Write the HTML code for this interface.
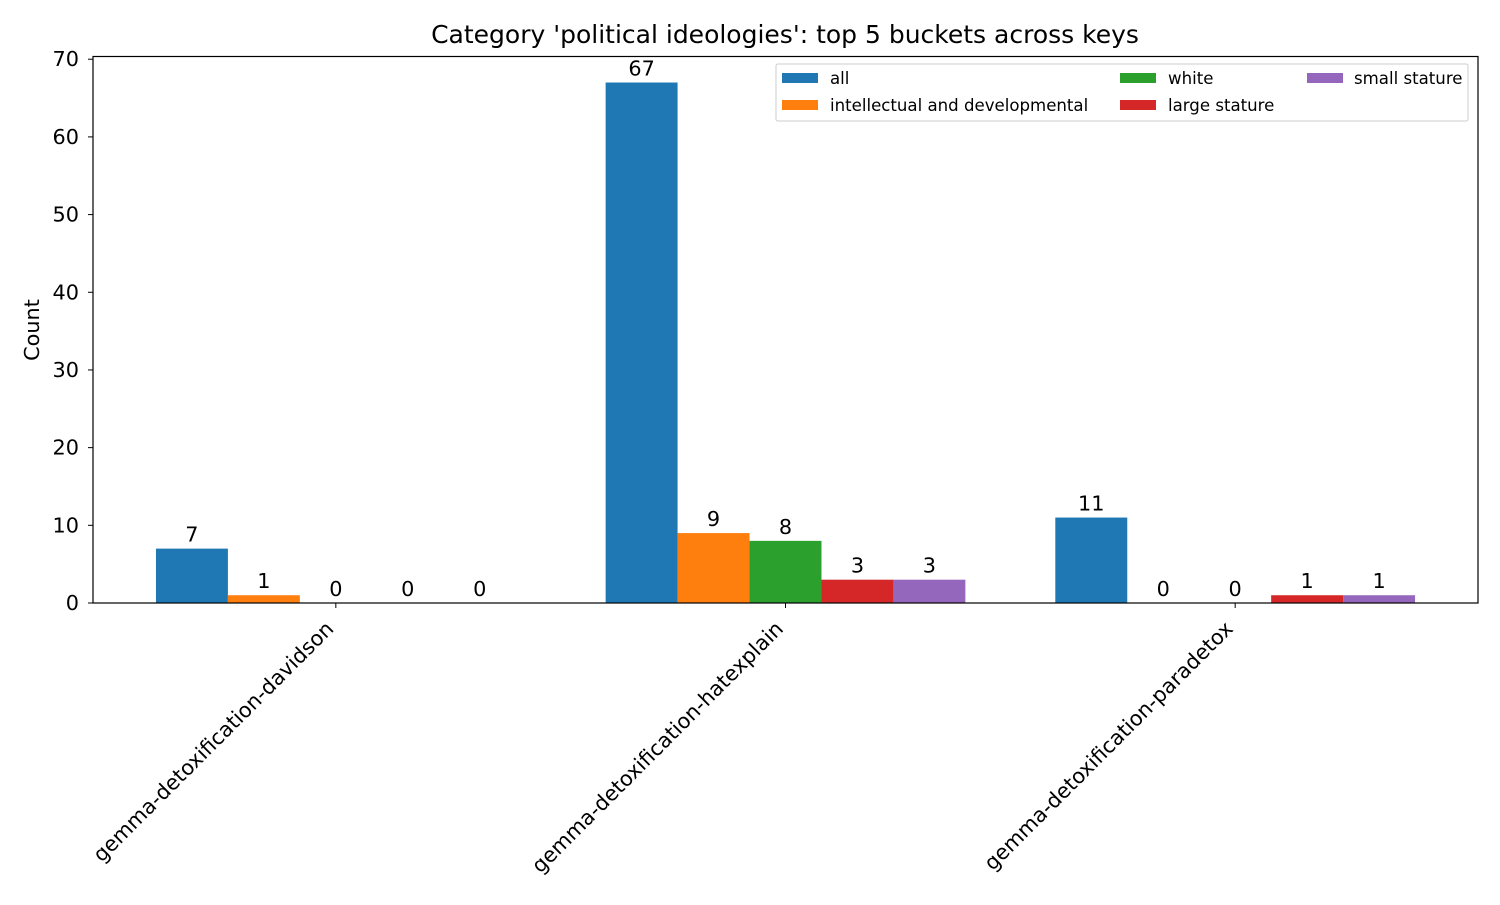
<!DOCTYPE html>
<html><head><meta charset="utf-8"><style>
body{margin:0;background:#fff;}
svg text{font-family:"DejaVu Sans","Liberation Sans",sans-serif;fill:#000;}
</style></head><body>
<svg id="chart" width="1500" height="900" xmlns="http://www.w3.org/2000/svg">
<rect x="0" y="0" width="1500" height="900" fill="#fff"/>
<text x="785" y="43" font-size="25" text-anchor="middle">Category 'political ideologies': top 5 buckets across keys</text>
<g id="plot"></g>
<text transform="translate(39,330) rotate(-90)" font-size="20.8" text-anchor="middle">Count</text>
<rect x="93" y="56.5" width="1385" height="546.5" fill="none" stroke="#000" stroke-width="1.2"/>
<g id="legend"></g>
</svg>
<script>
const categories = ["gemma-detoxification-davidson","gemma-detoxification-hatexplain","gemma-detoxification-paradetox"];
const seriesNames = ["all","intellectual and developmental","white","large stature","small stature"];
const seriesColors = ["#1f77b4","#ff7f0e","#2ca02c","#d62728","#9467bd"];
const sAll = [7,67,11];
const sIntellectual = [1,9,0];
const sWhite = [0,8,0];
const sLarge = [0,3,1];
const sSmall = [0,3,1];
const yTicks = [0,10,20,30,40,50,60,70];
const series = [sAll,sIntellectual,sWhite,sLarge,sSmall];

const NS="http://www.w3.org/2000/svg";
const L=93,R=1478,T=56.5,B=603;
const xMin=-0.54,xMax=2.54,yMax=70.35;
const xs=v=>L+(v-xMin)/(xMax-xMin)*(R-L);
const ys=v=>B-v/yMax*(B-T);
const plot=document.getElementById('plot');
function mk(tag,attrs,parent){const e=document.createElementNS(NS,tag);for(const k in attrs)e.setAttribute(k,attrs[k]);(parent||plot).appendChild(e);return e;}
const bw=0.16;
series.forEach((s,si)=>{
  s.forEach((v,ci)=>{
    const c=ci+(si-2)*bw;
    const r=mk('rect',{x:xs(c-bw/2),y:ys(v),width:xs(c+bw/2)-xs(c-bw/2),height:B-ys(v),fill:seriesColors[si]});
    
    
    const t=mk('text',{x:xs(c),y:ys(v)-7,'font-size':20.8,'text-anchor':'middle'});
    t.textContent=v;
    
    
  });
});
yTicks.forEach(v=>{
  const l=mk('line',{x1:L-5,x2:L,y1:ys(v),y2:ys(v),stroke:'#000','stroke-width':1});
  
  
  const t=mk('text',{x:L-14,y:ys(v)+7,'font-size':20.8,'text-anchor':'end'});
  t.textContent=v;
  
  
});
categories.forEach((c,i)=>{
  const x=xs(i);
  const l=mk('line',{x1:x,x2:x,y1:B,y2:B+5,stroke:'#000','stroke-width':1});
  
  
  const t=mk('text',{'font-size':20.8,'text-anchor':'end',transform:`translate(${x-1},${B+27}) rotate(-45)`});
  t.textContent=c;
  
  
});
const lg=document.getElementById('legend');
mk('rect',{x:776,y:64,width:692,height:57,fill:'#fff',stroke:'#ccc',rx:2},lg);
const cols=[[782,830],[1120,1168],[1307,1354]];
seriesNames.forEach((n,i)=>{
  const col=Math.floor(i/2),row=i%2;
  const y=78+row*27;
  const sw=mk('rect',{x:cols[col][0],y:y-5,width:36,height:10,fill:seriesColors[i]},lg);
  
  
  const t=mk('text',{x:cols[col][1],y:y+6,'font-size':16.6},lg);
  t.textContent=n;
  
  
});
</script>
</body></html>
